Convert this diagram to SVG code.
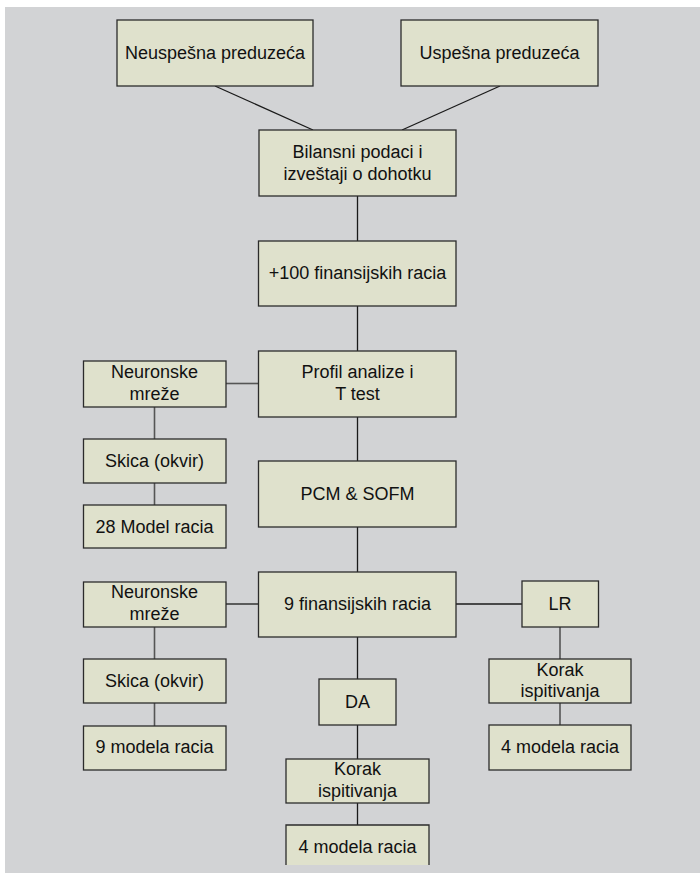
<svg xmlns="http://www.w3.org/2000/svg" width="700" height="873" viewBox="0 0 700 873">
  <style>
    .box rect, .box path { fill: #DFE1CC; stroke: #2b2b2b; stroke-width: 1.3; }
    .box text { font-family: "Liberation Sans", Arial, sans-serif; font-size: 18px; fill: #111; text-anchor: middle; }
    .main line { stroke: #1a1a1a; stroke-width: 1.3; }
    .side line { stroke: #555; stroke-width: 1.6; }
  </style>
  <rect x="0" y="0" width="700" height="873" fill="#ffffff"/>
  <rect x="5" y="7" width="695" height="866" fill="#D2D3D5"/>

  <g id="connectors">
    <g class="main">
      <line x1="215" y1="86" x2="313" y2="130"/>
      <line x1="500" y1="86" x2="402" y2="130"/>
      <line x1="357.5" y1="196" x2="357.5" y2="241"/>
      <line x1="357.5" y1="306" x2="357.5" y2="351"/>
      <line x1="357.5" y1="417" x2="357.5" y2="461"/>
      <line x1="357.5" y1="527" x2="357.5" y2="572"/>
      <line x1="357.5" y1="637" x2="357.5" y2="679"/>
      <line x1="357.5" y1="725" x2="357.5" y2="759"/>
      <line x1="357.5" y1="803" x2="357.5" y2="825"/>
      <line x1="226" y1="604" x2="258" y2="604"/>
      <line x1="456" y1="604" x2="522" y2="604"/>
    </g>
    <g class="side">
      <line x1="226" y1="383.5" x2="258" y2="383.5"/>
      <line x1="154.5" y1="407" x2="154.5" y2="439"/>
      <line x1="154.5" y1="483" x2="154.5" y2="505"/>
      <line x1="154.5" y1="627" x2="154.5" y2="659"/>
      <line x1="154.5" y1="703" x2="154.5" y2="726"/>
      <line x1="560" y1="627" x2="560" y2="659"/>
      <line x1="560" y1="703" x2="560" y2="725"/>
    </g>
  </g>

  <g id="neuspesna" class="box">
    <rect x="117" y="20" width="196" height="66"/>
    <text x="215" y="59">Neuspešna preduzeća</text>
  </g>
  <g id="uspesna" class="box">
    <rect x="401" y="20" width="197" height="66"/>
    <text x="499.5" y="59">Uspešna preduzeća</text>
  </g>
  <g id="bilansni" class="box">
    <rect x="259" y="130" width="197" height="66"/>
    <text x="357.5" y="158">Bilansni podaci i</text>
    <text x="357.5" y="180">izveštaji o dohotku</text>
  </g>
  <g id="finansijska-racia" class="box">
    <rect x="258.5" y="241" width="197.5" height="65"/>
    <text x="357.5" y="279">+100 finansijskih racia</text>
  </g>
  <g id="profil" class="box">
    <rect x="258.5" y="351" width="197.5" height="66"/>
    <text x="357.5" y="378">Profil analize i</text>
    <text x="357.5" y="400">T test</text>
  </g>
  <g id="neuronske-1" class="box">
    <rect x="83.5" y="361" width="142.5" height="46"/>
    <text x="154.5" y="378">Neuronske</text>
    <text x="154.5" y="400">mreže</text>
  </g>
  <g id="skica-1" class="box">
    <rect x="83.5" y="439" width="142.5" height="44"/>
    <text x="154.5" y="467">Skica (okvir)</text>
  </g>
  <g id="model-28" class="box">
    <rect x="83.5" y="505" width="142.5" height="43"/>
    <text x="154.5" y="533">28 Model racia</text>
  </g>
  <g id="pcm-sofm" class="box">
    <rect x="258.5" y="461" width="197.5" height="66"/>
    <text x="357.5" y="500">PCM &amp; SOFM</text>
  </g>
  <g id="devet-racia" class="box">
    <rect x="258.5" y="572" width="197.5" height="65"/>
    <text x="357.5" y="610">9 finansijskih racia</text>
  </g>
  <g id="neuronske-2" class="box">
    <rect x="83.5" y="582" width="142.5" height="45"/>
    <text x="154.5" y="598">Neuronske</text>
    <text x="154.5" y="620">mreže</text>
  </g>
  <g id="skica-2" class="box">
    <rect x="83.5" y="659" width="142.5" height="44"/>
    <text x="154.5" y="687">Skica (okvir)</text>
  </g>
  <g id="modela-9" class="box">
    <rect x="83.5" y="726" width="142.5" height="44"/>
    <text x="154.5" y="753">9 modela racia</text>
  </g>
  <g id="da" class="box">
    <rect x="319" y="679" width="77" height="46"/>
    <text x="357.5" y="708">DA</text>
  </g>
  <g id="korak-da" class="box">
    <rect x="286" y="759" width="143" height="44"/>
    <text x="357.5" y="775">Korak</text>
    <text x="357.5" y="797">ispitivanja</text>
  </g>
  <g id="modela-4-da" class="box">
    <rect x="286" y="825" width="143" height="40" style="stroke:none"/>
    <path d="M286 865 V825 H429 V865" style="fill:none"/>
    <text x="357.5" y="853">4 modela racia</text>
  </g>
  <g id="lr" class="box">
    <rect x="522" y="581" width="76.5" height="46"/>
    <text x="560" y="610">LR</text>
  </g>
  <g id="korak-lr" class="box">
    <rect x="489" y="659" width="142" height="44"/>
    <text x="560" y="676">Korak</text>
    <text x="560" y="697">ispitivanja</text>
  </g>
  <g id="modela-4-lr" class="box">
    <rect x="489" y="725" width="142" height="45"/>
    <text x="560" y="753">4 modela racia</text>
  </g>
</svg>
